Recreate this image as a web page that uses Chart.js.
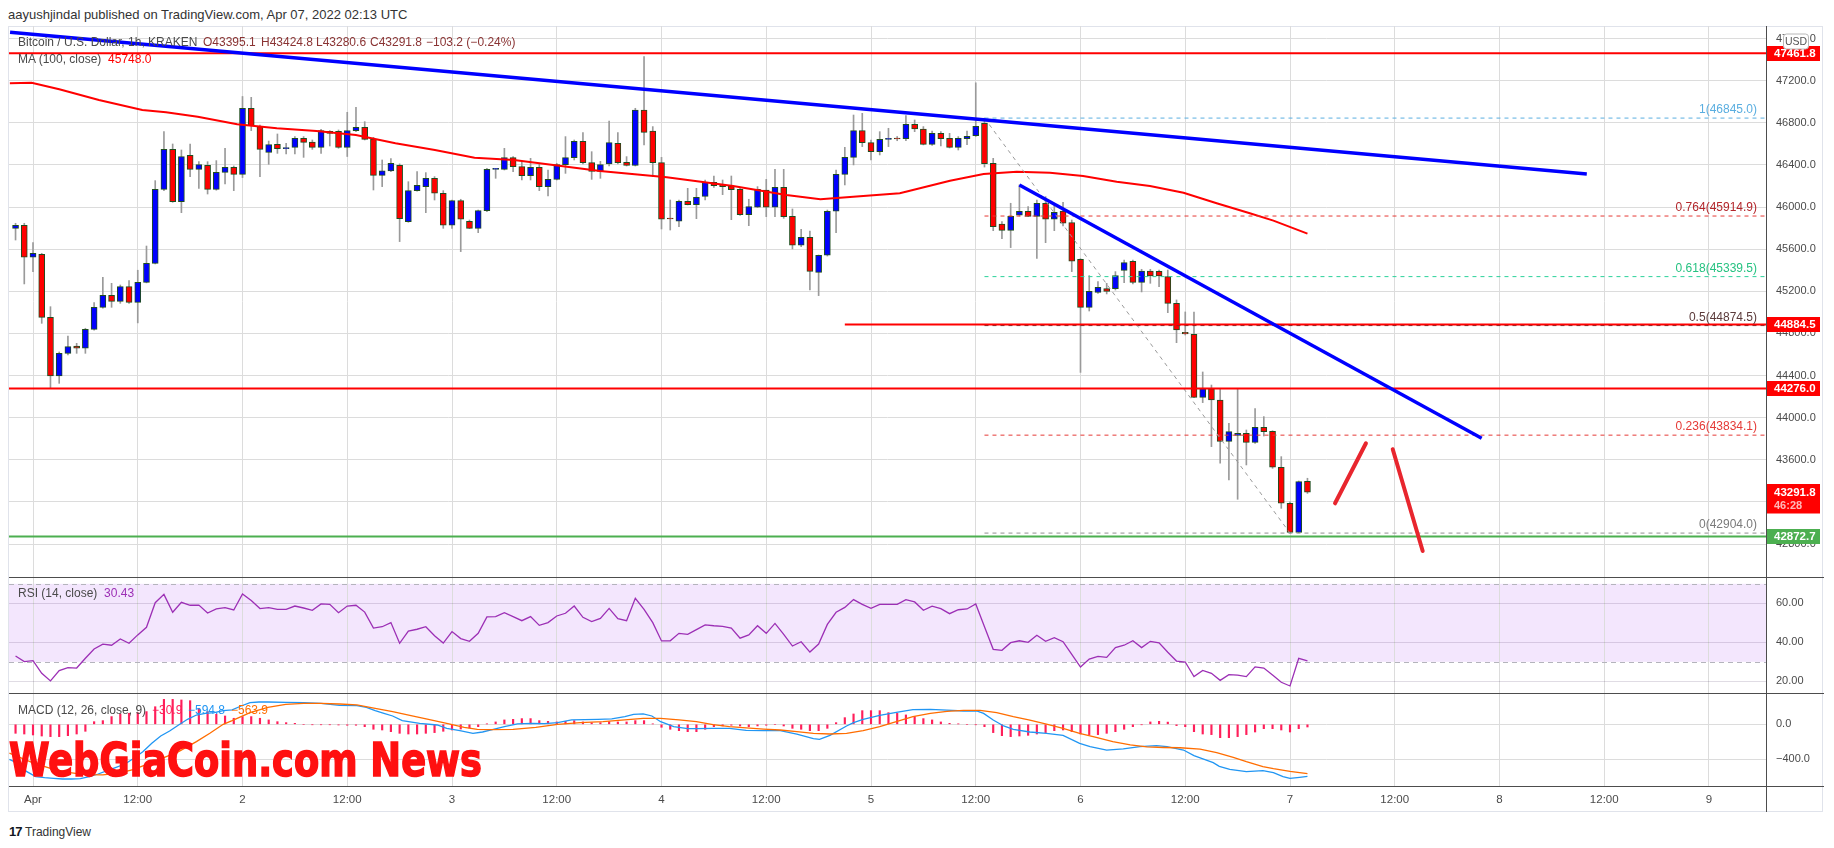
<!DOCTYPE html>
<html><head><meta charset="utf-8">
<script src="https://cdn.jsdelivr.net/npm/chart.js@4.4.1/dist/chart.umd.min.js"></script>
<style>
body{margin:0;background:#fff;width:1834px;height:848px;overflow:hidden;position:relative;font-family:"Liberation Sans",Arial,sans-serif;}
canvas{position:absolute;left:0;}
.t{position:absolute;white-space:nowrap;font-size:12px;line-height:14px;}
.ln{position:absolute;background:#4d4d4d;}
</style></head><body>
<div class="t" style="left:8px;top:8px;font-size:13px;color:#333">aayushjindal published on TradingView.com, Apr 07, 2022 02:13 UTC</div>
<div style="position:absolute;left:8px;top:26px;width:1815px;height:786px;border:1px solid #e0e3eb;box-sizing:border-box"></div>
<canvas id="cMain" width="1824" height="551" style="top:26px"></canvas>
<canvas id="cRsi" width="1824" height="116" style="top:577px"></canvas>
<canvas id="cMacd" width="1824" height="119" style="top:693px"></canvas>
<div class="ln" style="left:9px;top:577px;width:1815px;height:1px"></div>
<div class="ln" style="left:9px;top:693px;width:1815px;height:1px"></div>
<div class="ln" style="left:9px;top:786px;width:1815px;height:1px"></div>
<div class="ln" style="left:1766px;top:26px;width:1px;height:786px"></div>

<div class="t" style="left:18px;top:35px;color:#4a4a4a">Bitcoin / U.S. Dollar, 1h, KRAKEN</div>
<div class="t" style="left:203px;top:35px;color:#8a3333">O43395.1</div>
<div class="t" style="left:261px;top:35px;color:#8a3333">H43424.8</div>
<div class="t" style="left:316px;top:35px;color:#8a3333">L43280.6</div>
<div class="t" style="left:370px;top:35px;color:#8a3333">C43291.8</div>
<div class="t" style="left:426px;top:35px;color:#8a3333">−103.2 (−0.24%)</div>
<div class="t" style="left:18px;top:52px;color:#4a4a4a">MA (100, close)&nbsp;&nbsp;<span style="color:#ff0000">45748.0</span></div>
<div class="t" style="left:18px;top:586px;color:#4a4a4a">RSI (14, close)&nbsp;&nbsp;<span style="color:#9c2fb5">30.43</span></div>
<div class="t" style="left:18px;top:703px;color:#4a4a4a">MACD (12, 26, close, 9)</div>
<div class="t" style="left:152px;top:703px;color:#ff1f5a">−30.9</div>
<div class="t" style="left:188px;top:703px;color:#2196f3">−594.8</div>
<div class="t" style="left:231px;top:703px;color:#ff6d00">−563.9</div>

<div id="wm" style="position:absolute;left:9px;top:737px;font:bold 46px/46px 'Liberation Sans Narrow','DejaVu Sans Condensed','Liberation Sans',sans-serif;color:#ff1010;-webkit-text-stroke:1.5px #ff1010;white-space:nowrap;transform-origin:0 0;">WebGiaCoin.com News</div>

<div class="t" style="left:9px;top:825px;font-size:13px;color:#131722;font-weight:bold;letter-spacing:-1px">17</div>
<div class="t" style="left:25px;top:825px;font-size:12px;color:#333">TradingView</div>

<script>
// ---------------- DATA ----------------
const START_HOUR = -2; // first candle: hours from Apr 1 00:00 UTC
const opens = [45798,45827,45523,45551,44953,44396,44611,44681,44659,44839,
45048,45162,45105,45244,45095,45285,45466,46168,46548,46051,
46491,46358,46396,46168,46330,46377,46311,46938,46764,46520,
46596,46555,46567,46653,46618,46567,46700,46719,46567,46726,
46757,46643,46301,46343,46396,45861,46156,46194,46273,46130,
45827,46061,45865,45798,45966,46358,46358,46469,46384,46298,
46377,46194,46263,46403,46469,46624,46422,46339,46409,46605,
46425,46396,46922,46722,46422,45890,45865,46054,46023,46102,
46235,46213,46200,46168,45928,45998,46162,45998,46187,45912,
45637,45713,45380,45542,45960,46311,46472,46726,46612,46526,
46643,46650,46650,46786,46741,46596,46700,46653,46567,46650,
46678,46795,46415,45839,45779,45922,45960,45912,46036,45884,
45963,45852,45504,45048,45190,45225,45225,45399,45485,45285,
45393,45390,45339,45086,44811,44792,44193,44275,44168,43775,
43832,43851,43766,43908,43870,43529,43187,42911,43395.1];
const highs = [45846,45846,45662,45561,45054,44624,44776,44706,44849,45092,
45333,45276,45260,45301,45400,45630,46251,46716,46599,46542,
46599,46431,46431,46441,46558,46390,47050,47042,46779,46627,
46694,46605,46669,46669,46637,46738,46726,46732,46900,46947,
46811,46662,46447,46460,46410,46241,46336,46327,46289,46156,
46067,46074,45877,45972,46368,46368,46558,46479,46431,46463,
46415,46352,46415,46669,46637,46707,46526,46434,46817,46707,
46479,46938,47430,46764,46472,46067,46067,46178,46178,46257,
46295,46257,46295,46178,46074,46194,46263,46358,46358,45982,
45789,45773,45545,45972,46352,46567,46874,46890,46637,46716,
46748,46670,46868,46827,46764,46722,46716,46700,46669,46722,
47180,46845,46463,45861,46036,46210,46004,46067,46099,46036,
46045,45877,45510,45349,45292,45276,45387,45497,45497,45409,
45409,45402,45402,45118,45004,45003,44434,44310,44279,43946,
44276,43883,44086,44010,43876,43630,43200,43399,43424.8];
const lows = [45687,45270,45387,44896,44280,44326,44595,44611,44611,44830,
45040,45048,45086,45086,44900,45280,45460,46156,46045,45947,
46289,46178,46124,46160,46219,46156,46280,46726,46289,46406,
46510,46504,46504,46472,46548,46510,46580,46558,46480,46716,
46637,46162,46194,46336,45672,45855,46150,45947,46067,45798,
45798,45577,45795,45757,45956,46273,46352,46336,46257,46257,
46156,46105,46257,46320,46447,46409,46263,46273,46390,46409,
46390,46390,46589,46289,45792,45782,45814,46020,45890,46067,
46187,46118,45880,45921,45823,45995,45909,45909,45893,45602,
45624,45213,45159,45535,45757,46210,46400,46574,46447,46495,
46574,46630,46631,46716,46590,46586,46580,46561,46542,46593,
46670,46380,45776,45700,45615,45915,45909,45513,45662,45776,
45820,45387,44430,45013,45181,45175,45212,45282,45269,45194,
45276,45244,44997,44712,44785,44190,44143,43725,43567,43408,
43225,43551,43756,43826,43519,43139,42904,42907,43280.6];
const closes = [45827,45523,45561,44953,44396,44611,44674,44659,44839,45048,
45162,45105,45244,45095,45285,45466,46168,46548,46051,46479,
46358,46403,46168,46330,46377,46311,46938,46773,46548,46593,
46555,46561,46653,46615,46567,46726,46719,46567,46726,46757,
46643,46301,46343,46415,45890,46156,46206,46273,46131,45827,
46061,45884,45798,45966,46358,46362,46469,46384,46298,46377,
46194,46263,46403,46469,46624,46422,46339,46403,46612,46422,
46396,46922,46710,46422,45884,45887,46055,46023,46093,46235,
46203,46194,46165,45928,46004,46168,45998,46187,45909,45637,
45713,45390,45542,45960,46311,46472,46726,46612,46526,46643,
46647,46646,46786,46741,46596,46700,46650,46567,46653,46672,
46767,46412,45814,45779,45912,45960,45912,46036,45884,45950,
45846,45485,45048,45200,45238,45200,45349,45472,45285,45393,
45345,45345,45086,44833,44795,44193,44276,44168,43775,43867,
43851,43766,43908,43867,43529,43187,42911,43392,43291.8];

const rsiValues = [33.0,30.1,30.6,24.1,20.2,25.5,27.0,26.8,31.8,36.6,
39.1,38.5,41.7,39.5,43.8,47.7,60.3,64.6,55.4,60.5,
59.0,59.1,55.0,57.1,57.8,56.6,64.8,61.4,57.3,57.8,
56.9,56.9,58.6,57.6,56.4,59.7,59.5,55.2,58.6,59.0,
55.5,47.3,48.0,50.1,39.5,45.8,46.7,48.0,43.4,39.6,
45.5,41.9,40.5,44.6,53.0,53.2,55.2,53.2,51.1,53.2,
48.7,50.1,53.5,54.9,58.6,52.8,50.6,52.3,57.4,52.1,
51.1,62.6,56.9,50.1,40.7,40.8,44.6,44.1,46.5,48.9,
48.5,48.2,47.3,42.1,43.8,48.5,44.6,49.7,44.1,38.1,
40.3,35.0,39.1,49.2,55.4,57.9,61.9,59.5,57.4,59.5,
59.5,59.5,61.9,60.7,56.4,58.5,57.3,54.7,56.7,57.1,
59.7,48.0,36.4,35.9,39.8,40.8,40.0,43.6,40.5,42.4,
40.3,33.8,27.3,31.4,32.8,32.3,37.3,38.5,40.8,37.3,
40.5,39.7,34.9,30.4,29.9,22.4,25.6,24.1,20.5,23.4,
23.2,22.4,27.4,26.8,23.2,19.5,17.6,31.8,30.43];

const macdHist = [-103,-111,-122,-134,-141,-141,-130,-111,-80,30,
42,88,118,126,133,145,201,285,285,278,
270,183,145,114,95,69,88,88,69,50,
30,19,11,0,-4,-4,-4,-8,-11,-11,
-27,-57,-65,-84,-103,-111,-111,-103,-95,-80,
-65,-54,-42,-27,4,27,50,57,65,65,
42,34,27,34,42,27,19,19,30,27,
27,42,42,4,-34,-57,-73,-84,-84,-57,
-27,-19,-11,-19,-27,-19,-11,0,-19,-46,
-57,-73,-73,-46,19,76,118,156,156,156,
133,125,107,88,65,50,27,11,4,0,
-4,-27,-95,-130,-141,-134,-126,-111,-95,-73,
-65,-84,-111,-118,-118,-103,-84,-57,-27,-4,
27,34,25,-15,-27,-84,-111,-118,-153,-153,
-141,-118,-88,-50,-50,-65,-88,-50,-30.9];

// sparse read points [hour, value]
const macdLinePts = [[-2.7,-400],[-1.73,-446],[-0.71,-541],[0.31,-598],[1.33,-610],[2.36,-617],[3.38,-625],[4.4,-625],[5.43,-621],[6.45,-598],[7.47,-568],[8.49,-530],[9.52,-492],[10.54,-454],[11.56,-389],[12.58,-313],[13.61,-217],[14.63,-134],[15.65,-76],[16.68,-8],[17.7,57],[18.72,106],[19.74,125],[20.77,133],[21.79,156],[22.81,164],[23.84,209],[24.86,247],[25.88,255],[26.9,255],[28.95,251],[31.0,247],[33.0,240],[35.1,217],[37.1,213],[38.2,194],[39.2,156],[40.2,125],[41.2,95],[42.3,42],[44.3,11],[46.3,-8],[47.4,-46],[48.9,-73],[50.4,-103],[51.5,-88],[52.5,-65],[54.0,-27],[55.5,4],[57.1,11],[58.6,7.5],[60.1,19],[61.7,49.5],[63.2,53],[64.7,57],[66.3,61],[67.8,87.5],[68.8,114],[69.9,118],[70.9,95],[71.9,30],[73.4,-27],[75.0,-50],[76.0,-50],[77.9,-46],[79.8,-46],[81.7,-69],[83.7,-73],[85.6,-73],[87.5,-111],[89.4,-164],[90.1,-172],[91.3,-126],[93.2,-19],[94.0,19],[95.1,57],[97.0,103],[98.9,137],[100.8,167],[102.8,171],[104.7,163],[106.6,152],[108.1,152],[108.9,125],[110.0,49],[111.2,-19],[112.3,-57],[114.2,-88],[116.1,-103],[118.0,-126],[119.9,-217],[121.1,-256],[123.0,-294],[124.9,-282],[126.8,-256],[128.7,-244],[129.9,-256],[131.8,-294],[133.0,-358],[134.1,-397],[135.2,-438],[135.9,-480],[137.1,-515],[139.0,-541],[140.9,-530],[142.1,-553],[143.2,-598],[144.0,-618],[145.1,-606],[146.0,-594.8]];
const signalPts = [[-2.7,-330],[0,-440],[2,-505],[4,-550],[6,-575],[8,-578],[10,-555],[11.56,-515],[14,-420],[16.68,-313],[18.72,-198],[20.26,-103],[21.79,0],[22.81,41],[23.84,87],[24.86,133],[26.9,194],[28.95,228],[31,240],[33,240],[35.1,232],[37.1,221],[39.2,183],[41.2,144],[43.3,99],[45.3,57],[47.4,11],[49.4,-34],[50.9,-57],[52.5,-61],[55,-57],[57.6,-34],[60.1,0],[62.7,19],[65.3,30],[67.8,49.5],[69.9,68.5],[71.9,68.5],[74,49.5],[76,30],[77.9,-4.6],[79.8,-27],[81.7,-42],[83.7,-54],[85.6,-65],[87.5,-84],[89.4,-103],[91.3,-111],[93.2,-103],[95.1,-73],[97,-27],[98.9,30],[100.8,87],[102.8,125],[104.7,148],[106.6,160],[108.5,160],[110.4,133],[112.3,87],[114.2,49],[116.1,3],[118,-46],[119.9,-103],[121.8,-149],[123.7,-198],[125.7,-236],[127.6,-259],[129.5,-265],[131.4,-268],[133.7,-284],[135.6,-324],[137.5,-378],[139,-427],[140.9,-484],[142.1,-507],[144,-538],[145.1,-553],[146,-563.9]];
const maPts = [[-2.65,47175],[-0.16,47181],[3.01,47118],[7.55,47017],[12.52,46922],[15.24,46900],[18.87,46858],[23.39,46786],[27.93,46748],[32.46,46722],[36.99,46684],[41.52,46606],[46.04,46542],[50.58,46469],[55.1,46447],[59.6,46399],[64.96,46343],[72.6,46283],[80.2,46200],[86.3,46115],[90.2,46074],[93.97,46098],[99.3,46131],[105.05,46250],[108.9,46314],[112.7,46336],[116.5,46326],[120.3,46295],[124.15,46241],[127.96,46200],[131.8,46136],[135.6,46036],[139.4,45941],[142.1,45871],[146,45748]];

// drawings
const trendLongPts = [[-2.63,47660],[178.0,46314]];
const trendShortPts = [[113.0,46210],[165.96,43804]];
const arrowUpPts = [[149.16,43187],[152.7,43757]];
const arrowDownPts = [[155.77,43700],[159.2,42734]];
const fibStartHour = 109, fibEndHour = 144;
const fibRatios = [1, 0.764, 0.618, 0.5, 0.236, 0];
const fibPrices = [46845.0, 45914.9, 45339.5, 44874.5, 43834.1, 42904.0];
const levelPrices = [47461.8, 44884.5, 44276.0, 42872.7];
const levelStartHours = [null, 93.0, null, null];
const lastPrice = 43291.8, countdown = '46:28';

// tick labels
const priceTicks = [42800,43200,43600,44000,44400,44800,45200,45600,46000,46400,46800,47200,47600];
const rsiTicks = [20,40,60];
const macdTicks = [-400,0];
const timeTickHours = [0,12,24,36,48,60,72,84,96,108,120,132,144,156,168,180,192];
const timeTickLabels = ['Apr','12:00','2','12:00','3','12:00','4','12:00','5','12:00','6','12:00','7','12:00','8','12:00','9'];

// ---------------- CHARTS ----------------
Chart.defaults.font.family = '"Liberation Sans", Arial, sans-serif';
const X_MIN = -2.75, X_MAX = 198.53;
const GRID = '#dcdcdc';
const AXIS_W = 58;
const hours = opens.map((_, i) => START_HOUR + i);

function xScale(showLabels){
  return {
    type:'linear', min:X_MIN, max:X_MAX, bounds:'data', offset:false,
    grid:{color:GRID, drawTicks:false, offset:false},
    border:{display:false},
    ticks:{display:showLabels, padding:7, color:'#4a4a4a', font:{size:11.5}, autoSkip:false, maxRotation:0,
      callback:(v)=>{const i = timeTickHours.indexOf(v); return i>=0 ? timeTickLabels[i] : '';}},
    afterBuildTicks:(s)=>{ s.ticks = timeTickHours.map(v=>({value:v})); },
    afterFit:(s)=>{ s.height = showLabels ? 26 : 0; s.paddingLeft = 0; s.paddingRight = 0; }
  };
}
function yScale(min, max, ticks, fmt, gridColor){
  return {
    type:'linear', position:'right', min, max, bounds:'data',
    grid:{color:gridColor || GRID, drawTicks:false},
    border:{display:false},
    ticks:{padding:10, crossAlign:'near', color:'#4a4a4a', font:{size:11}, callback:fmt},
    afterBuildTicks:(s)=>{ s.ticks = ticks.map(v=>({value:v})); },
    afterFit:(s)=>{ s.width = AXIS_W; s.paddingTop = 0; s.paddingBottom = 0; }
  };
}
function lineDs(pts, color, width, extra){
  return Object.assign({type:'line', data:pts.map(p=>({x:p[0], y:p[1]})), borderColor:color, borderWidth:width,
    pointRadius:0, tension:0, fill:false, order:1}, extra||{});
}
const baseOpts = {responsive:false, animation:false, devicePixelRatio:1,
  layout:{padding:{left:9, right:0, top:0, bottom:0}},
  plugins:{legend:{display:false}, tooltip:{enabled:false}}};

// ---- main price chart
const fibLineColors = ['#5aaee0','#e53935','#2bd19a','#3a3a3a','#e53935','#8f8f8f'];
const fibTextColors = ['#5aaee0','#b3262b','#26c281','#5b3a3a','#e53935','#7a7a7a'];
const levelColors = ['#ff0000','#ff0000','#ff0000','#4caf50'];

const mainDatasets = [
  {type:'bar', data:hours.map((h,i)=>({x:h, y:[lows[i], highs[i]]})), backgroundColor:'#9a9a9a',
   barThickness:1, grouped:false, order:6},
  {type:'bar', data:hours.map((h,i)=>({x:h, y:[opens[i], closes[i]]})),
   backgroundColor:hours.map((h,i)=> closes[i] >= opens[i] ? '#0000ff' : '#ff0000'),
   borderColor:'#1e4d1e', borderWidth:1, borderSkipped:false, minBarLength:1,
   barThickness:6, grouped:false, order:5},
  lineDs(maPts, '#ff0000', 2, {order:4}),
  lineDs([[fibStartHour, fibPrices[0]],[fibEndHour, fibPrices[5]]], '#9a9a9a', 1, {borderDash:[4,4], order:3}),
];
fibPrices.forEach((p,i)=> mainDatasets.push(lineDs([[fibStartHour,p],[X_MAX,p]], fibLineColors[i], 1, {borderDash:[4,4], order:3})));
levelPrices.forEach((p,i)=> mainDatasets.push(lineDs([[levelStartHours[i]===null ? X_MIN : levelStartHours[i], p],[X_MAX,p]], levelColors[i], 2, {order:2})));
mainDatasets.push(lineDs(trendLongPts, '#0000ff', 3.5, {order:1}));
mainDatasets.push(lineDs(trendShortPts, '#0000ff', 3.5, {order:1}));
mainDatasets.push(lineDs(arrowUpPts, '#e8262e', 4, {borderCapStyle:'round', order:1}));
mainDatasets.push(lineDs(arrowDownPts, '#e8262e', 4, {borderCapStyle:'round', order:1}));

const mainOverlay = {
  id:'mainOverlay',
  afterDatasetsDraw(chart){
    const {ctx, chartArea, scales:{y}} = chart;
    ctx.save();
    ctx.font = '12px "Liberation Sans", Arial, sans-serif';
    ctx.textAlign = 'right'; ctx.textBaseline = 'middle';
    fibPrices.forEach((p,i)=>{
      ctx.fillStyle = fibTextColors[i];
      ctx.fillText(String(fibRatios[i]) + '(' + p.toFixed(1) + ')', chartArea.right - 9, y.getPixelForValue(p) - 8);
    });
    ctx.restore();
  },
  afterDraw(chart){
    const {ctx, chartArea, scales:{y}} = chart;
    const x0 = chartArea.right + 1, w = 53;
    ctx.save();
    ctx.textAlign = 'left'; ctx.textBaseline = 'middle';
    const boxes = [
      [levelPrices[0], '#ff0000'], [levelPrices[1], '#ff0000'], [levelPrices[2], '#ff0000'], [levelPrices[3], '#4caf50']
    ];
    boxes.forEach(([v,bg])=>{
      const yy = y.getPixelForValue(v);
      ctx.fillStyle = bg; ctx.fillRect(x0, Math.round(yy-7.5), w, 15);
      ctx.fillStyle = '#fff'; ctx.font = 'bold 11.5px "Liberation Sans", Arial, sans-serif';
      ctx.fillText(v.toFixed(1), x0 + 7, yy + 0.5);
    });
    const yl = y.getPixelForValue(lastPrice);
    ctx.fillStyle = '#ff0000'; ctx.fillRect(x0, Math.round(yl-8.5), w, 29.5);
    ctx.fillStyle = '#fff'; ctx.font = 'bold 11.5px "Liberation Sans", Arial, sans-serif';
    ctx.fillText(lastPrice.toFixed(1), x0 + 7, yl + 0.5);
    ctx.fillStyle = 'rgba(255,255,255,0.72)'; ctx.font = 'bold 11px "Liberation Sans", Arial, sans-serif';
    ctx.fillText(countdown, x0 + 7, yl + 13.5);
    // USD badge
    const bx = chartArea.right + 17, by = 7.5, bw = 25, bh = 15;
    ctx.fillStyle = '#fff'; ctx.strokeStyle = '#b8b8b8'; ctx.lineWidth = 1;
    ctx.beginPath(); ctx.roundRect(bx+0.5, by+0.5, bw, bh, 3); ctx.fill(); ctx.stroke();
    ctx.fillStyle = '#555'; ctx.font = '10.5px "Liberation Sans", Arial, sans-serif'; ctx.textAlign = 'center';
    ctx.fillText('USD', bx + bw/2 + 0.5, by + bh/2 + 1);
    ctx.restore();
  }
};

new Chart(document.getElementById('cMain'), {
  type:'bar', data:{datasets:mainDatasets},
  options:Object.assign({}, baseOpts, {scales:{x:xScale(false), y:yScale(42487, 47719.4, priceTicks, v=>v.toFixed(1))}}),
  plugins:[mainOverlay]
});

// ---- RSI chart
const rsiBand = {
  id:'rsiBand',
  beforeDraw(chart){
    const {ctx, chartArea, scales:{y}} = chart;
    const y70 = y.getPixelForValue(70), y30 = y.getPixelForValue(30);
    ctx.save(); ctx.fillStyle = '#f3e6fd';
    ctx.fillRect(chartArea.left, y70, chartArea.right - chartArea.left, y30 - y70);
    ctx.restore();
  },
  beforeDatasetsDraw(chart){
    const {ctx, chartArea, scales:{y}} = chart;
    ctx.save(); ctx.strokeStyle = '#b4b4bc'; ctx.lineWidth = 1; ctx.setLineDash([5,4]);
    [70,30].forEach(v=>{ const yy = Math.round(y.getPixelForValue(v)) + 0.5;
      ctx.beginPath(); ctx.moveTo(chartArea.left, yy); ctx.lineTo(chartArea.right, yy); ctx.stroke(); });
    ctx.restore();
  }
};
new Chart(document.getElementById('cRsi'), {
  type:'line',
  data:{datasets:[lineDs(hours.map((h,i)=>[h, rsiValues[i]]), '#9c2fb5', 1.3)]},
  options:Object.assign({}, baseOpts, {scales:{x:xScale(false), y:yScale(14.0, 73.5, rsiTicks, v=>v.toFixed(2), 'rgba(60,40,90,0.16)')}}),
  plugins:[rsiBand]
});

// ---- MACD chart
new Chart(document.getElementById('cMacd'), {
  type:'bar',
  data:{datasets:[
    {type:'bar', data:hours.map((h,i)=>({x:h, y:macdHist[i]})), backgroundColor:'#ff1f5a', barThickness:1.5, grouped:false, order:3},
    lineDs(macdLinePts, '#2196f3', 1.3, {order:2}),
    lineDs(signalPts, '#ff6d00', 1.3, {order:1})
  ]},
  options:Object.assign({}, baseOpts, {scales:{x:xScale(true), y:yScale(-705.1, 357.7, macdTicks, v=> v===0 ? '0.0' : (v<0?'−':'') + Math.abs(v).toFixed(1))}})
});

// watermark width fit
const wm = document.getElementById('wm');
const ww = wm.getBoundingClientRect().width;
wm.style.transform = 'scaleX(' + (473 / ww) + ')';
</script>
</body></html>
